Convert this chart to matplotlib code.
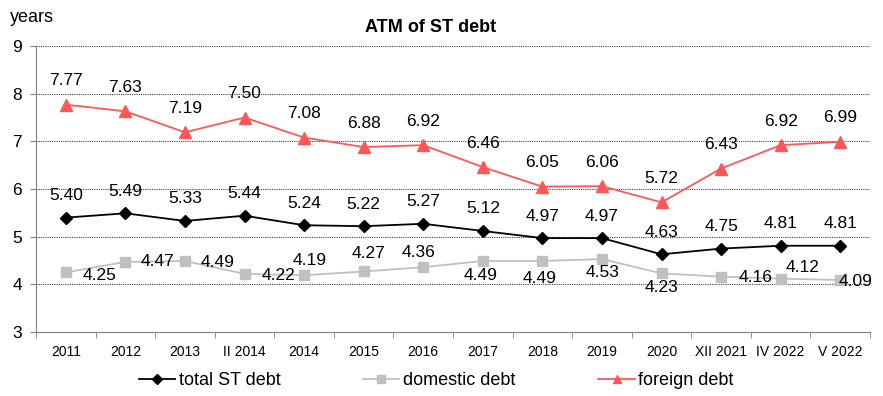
# ATM of short-term debt, line chart with value labels

import numpy as np
import matplotlib.pyplot as plt

plt.rcParams['font.family'] = ['Liberation Sans', 'DejaVu Sans']

periods = ['2011', '2012', '2013', 'II 2014', '2014', '2015', '2016', '2017',
           '2018', '2019', '2020', 'XII 2021', 'IV 2022', 'V 2022']
total_st = [5.40, 5.49, 5.33, 5.44, 5.24, 5.22, 5.27, 5.12, 4.97, 4.97, 4.63, 4.75, 4.81, 4.81]
domestic = [4.25, 4.47, 4.49, 4.22, 4.19, 4.27, 4.36, 4.49, 4.49, 4.53, 4.23, 4.16, 4.12, 4.09]
foreign = [7.77, 7.63, 7.19, 7.50, 7.08, 6.88, 6.92, 6.46, 6.05, 6.06, 5.72, 6.43, 6.92, 6.99]

# where each domestic label sits relative to its point (pixels, +y is up)
dom_offsets = [(34, -3), (32, 0), (33, -2), (34, -2), (6, 15), (5, 18), (-5, 15),
               (-2, -15), (-3, -18), (1, -13), (0, -14), (34, -1), (22, 11), (15, -1)]

red = '#ff5757'
grey = '#c0c0c0'

fig = plt.figure(figsize=(8.83, 3.96), dpi=100)
ax = fig.add_axes([0.0408, 0.1616, 0.9445, 0.7222])

x = np.arange(len(periods))
ax.plot(x, total_st, color='black', marker='D', markersize=6.5, linewidth=1.3, label='total ST debt')
ax.plot(x, domestic, color=grey, marker='s', markersize=7.5, linewidth=1.3, label='domestic debt')
ax.plot(x, foreign, color=red, marker='^', markersize=8.5, linewidth=1.3, label='foreign debt')

for i in range(len(periods)):
    ax.annotate('{:.2f}'.format(total_st[i]), (x[i], total_st[i]), xytext=(0, 22),
                textcoords='offset pixels', ha='center', va='center', fontsize=12.5)
    ax.annotate('{:.2f}'.format(foreign[i]), (x[i], foreign[i]), xytext=(0, 24),
                textcoords='offset pixels', ha='center', va='center', fontsize=12.5)
    ax.annotate('{:.2f}'.format(domestic[i]), (x[i], domestic[i]), xytext=dom_offsets[i],
                textcoords='offset pixels', ha='center', va='center', fontsize=12.5)

ax.set_xlim(-0.5, len(periods) - 0.5)
ax.set_ylim(3, 9)
ax.set_yticks(range(3, 10))
ax.tick_params(axis='y', labelsize=12.5, length=4, color='#808080', pad=6)

# category labels centred, tick marks on the boundaries
ax.set_xticks(x)
ax.set_xticklabels(periods, fontsize=10)
ax.set_xticks(np.arange(-0.5, len(periods)), minor=True)
ax.tick_params(axis='x', which='major', length=0, pad=9)
ax.tick_params(axis='x', which='minor', length=4, color='#808080')

for y in range(4, 10):
    ax.axhline(y, color='#404040', linestyle=(0, (1, 1)), linewidth=0.8, zorder=0)

for side in ['top', 'right']:
    ax.spines[side].set_visible(False)
ax.spines['left'].set_color('#808080')
ax.spines['bottom'].set_color('#808080')

fig.text(0.488, 0.93, 'ATM of ST debt', ha='center', va='center', fontsize=13, fontweight='bold')
fig.text(0.011, 0.955, 'years', ha='left', va='center', fontsize=13)

fig.legend(loc='center', bbox_to_anchor=(0.494, 0.038), ncol=3, frameon=False, fontsize=13,
           handlelength=2.0, handletextpad=0.2, columnspacing=4.6, markerscale=0.75)

fig.savefig('out.png', dpi=100)
